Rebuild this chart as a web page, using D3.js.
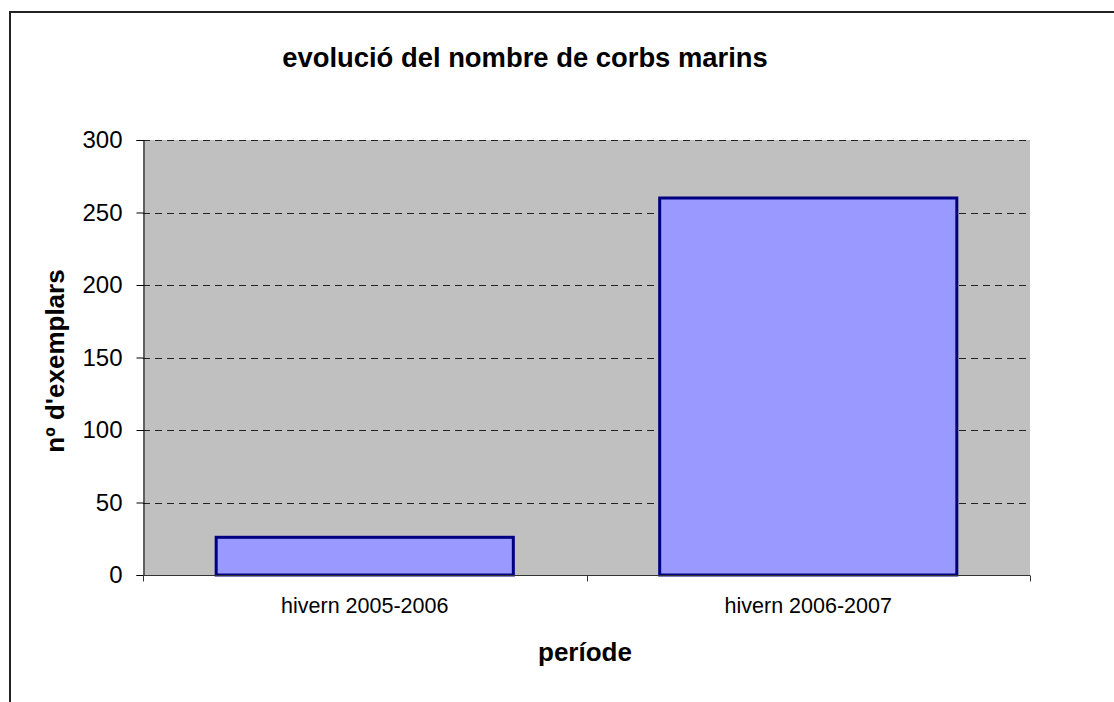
<!DOCTYPE html>
<html>
<head>
<meta charset="utf-8">
<script src="https://cdn.jsdelivr.net/npm/d3@7"></script>
<style>
body { margin: 0; background: #fff; }
svg { display: block; }
text { font-family: "Liberation Sans", Arial, sans-serif; }
</style>
</head>
<body>
<script>
var w = 1114;
var h = 702;

var categories = ["hivern 2005-2006", "hivern 2006-2007"];
var values = [26, 260];
var yTicks = [0, 50, 100, 150, 200, 250, 300];

// plot area edges
var pLeft = 143, pRight = 1030, pTop = 140, pBottom = 575;

var svg = d3.select("body").append("svg")
    .attr("width", w)
    .attr("height", h);

// outer frame (runs off the right and bottom edge)
svg.append("path")
    .attr("d", "M10," + (h + 5) + "V12H" + (w + 5))
    .attr("fill", "none")
    .attr("stroke", "#222")
    .attr("stroke-width", 2);

var x = d3.scaleBand()
    .domain(categories)
    .range([pLeft, pRight])
    .paddingInner(0.33)
    .paddingOuter(0.165);

var y = d3.scaleLinear()
    .domain([0, 300])
    .range([pBottom, pTop]);

// plot background
svg.append("rect")
    .attr("x", pLeft).attr("y", pTop)
    .attr("width", pRight - pLeft).attr("height", pBottom - pTop)
    .attr("fill", "#c0c0c0");

// gridlines
svg.selectAll(".grid")
    .data(yTicks.filter(function(d) { return d > 0; }))
    .enter().append("line")
    .attr("x1", pLeft).attr("x2", pRight)
    .attr("y1", function(d) { return Math.round(y(d)) + 0.5; })
    .attr("y2", function(d) { return Math.round(y(d)) + 0.5; })
    .attr("stroke", "#222")
    .attr("stroke-dasharray", "7,5");

// bars
svg.selectAll(".bar")
    .data(values)
    .enter().append("rect")
    .attr("x", function(d, i) { return x(categories[i]); })
    .attr("y", function(d) { return y(d); })
    .attr("width", x.bandwidth())
    .attr("height", function(d) { return y(0) - y(d); })
    .attr("fill", "#9999ff")
    .attr("stroke", "#000080")
    .attr("stroke-width", 3);

// y axis
var yAxis = d3.axisLeft(y).tickValues(yTicks).tickSize(7).tickPadding(14);
var gy = svg.append("g")
    .attr("transform", "translate(" + (pLeft + 0.5) + ",0)")
    .call(yAxis);
gy.selectAll("text").style("font-size", "24px").attr("fill", "#000");
gy.selectAll("line, path").attr("stroke", "#000");

// x axis
var gx = svg.append("g")
    .attr("transform", "translate(0," + (pBottom + 0.5) + ")");
gx.append("line")
    .attr("x1", pLeft).attr("x2", pRight)
    .attr("stroke", "#333");
var edges = [pLeft, (pLeft + pRight) / 2, pRight];
gx.selectAll(".tk").data(edges).enter().append("line")
    .attr("x1", function(d) { return Math.round(d) + 0.5; })
    .attr("x2", function(d) { return Math.round(d) + 0.5; })
    .attr("y1", 0).attr("y2", 6)
    .attr("stroke", "#333");
gx.selectAll(".lbl").data(categories).enter().append("text")
    .attr("x", function(d) { return x(d) + x.bandwidth() / 2; })
    .attr("y", 37.5)
    .attr("text-anchor", "middle")
    .style("font-size", "21.5px")
    .text(function(d) { return d; });

// title and axis labels
svg.append("text")
    .attr("x", 525).attr("y", 67)
    .attr("text-anchor", "middle")
    .style("font-size", "27.4px").style("font-weight", "bold")
    .text("evolució del nombre de corbs marins");

svg.append("text")
    .attr("x", 585).attr("y", 661)
    .attr("text-anchor", "middle")
    .style("font-size", "26px").style("font-weight", "bold")
    .text("període");

svg.append("text")
    .attr("transform", "translate(64,361) rotate(-90)")
    .attr("text-anchor", "middle")
    .style("font-size", "26px").style("font-weight", "bold")
    .text("nº d'exemplars");
</script>
</body>
</html>
